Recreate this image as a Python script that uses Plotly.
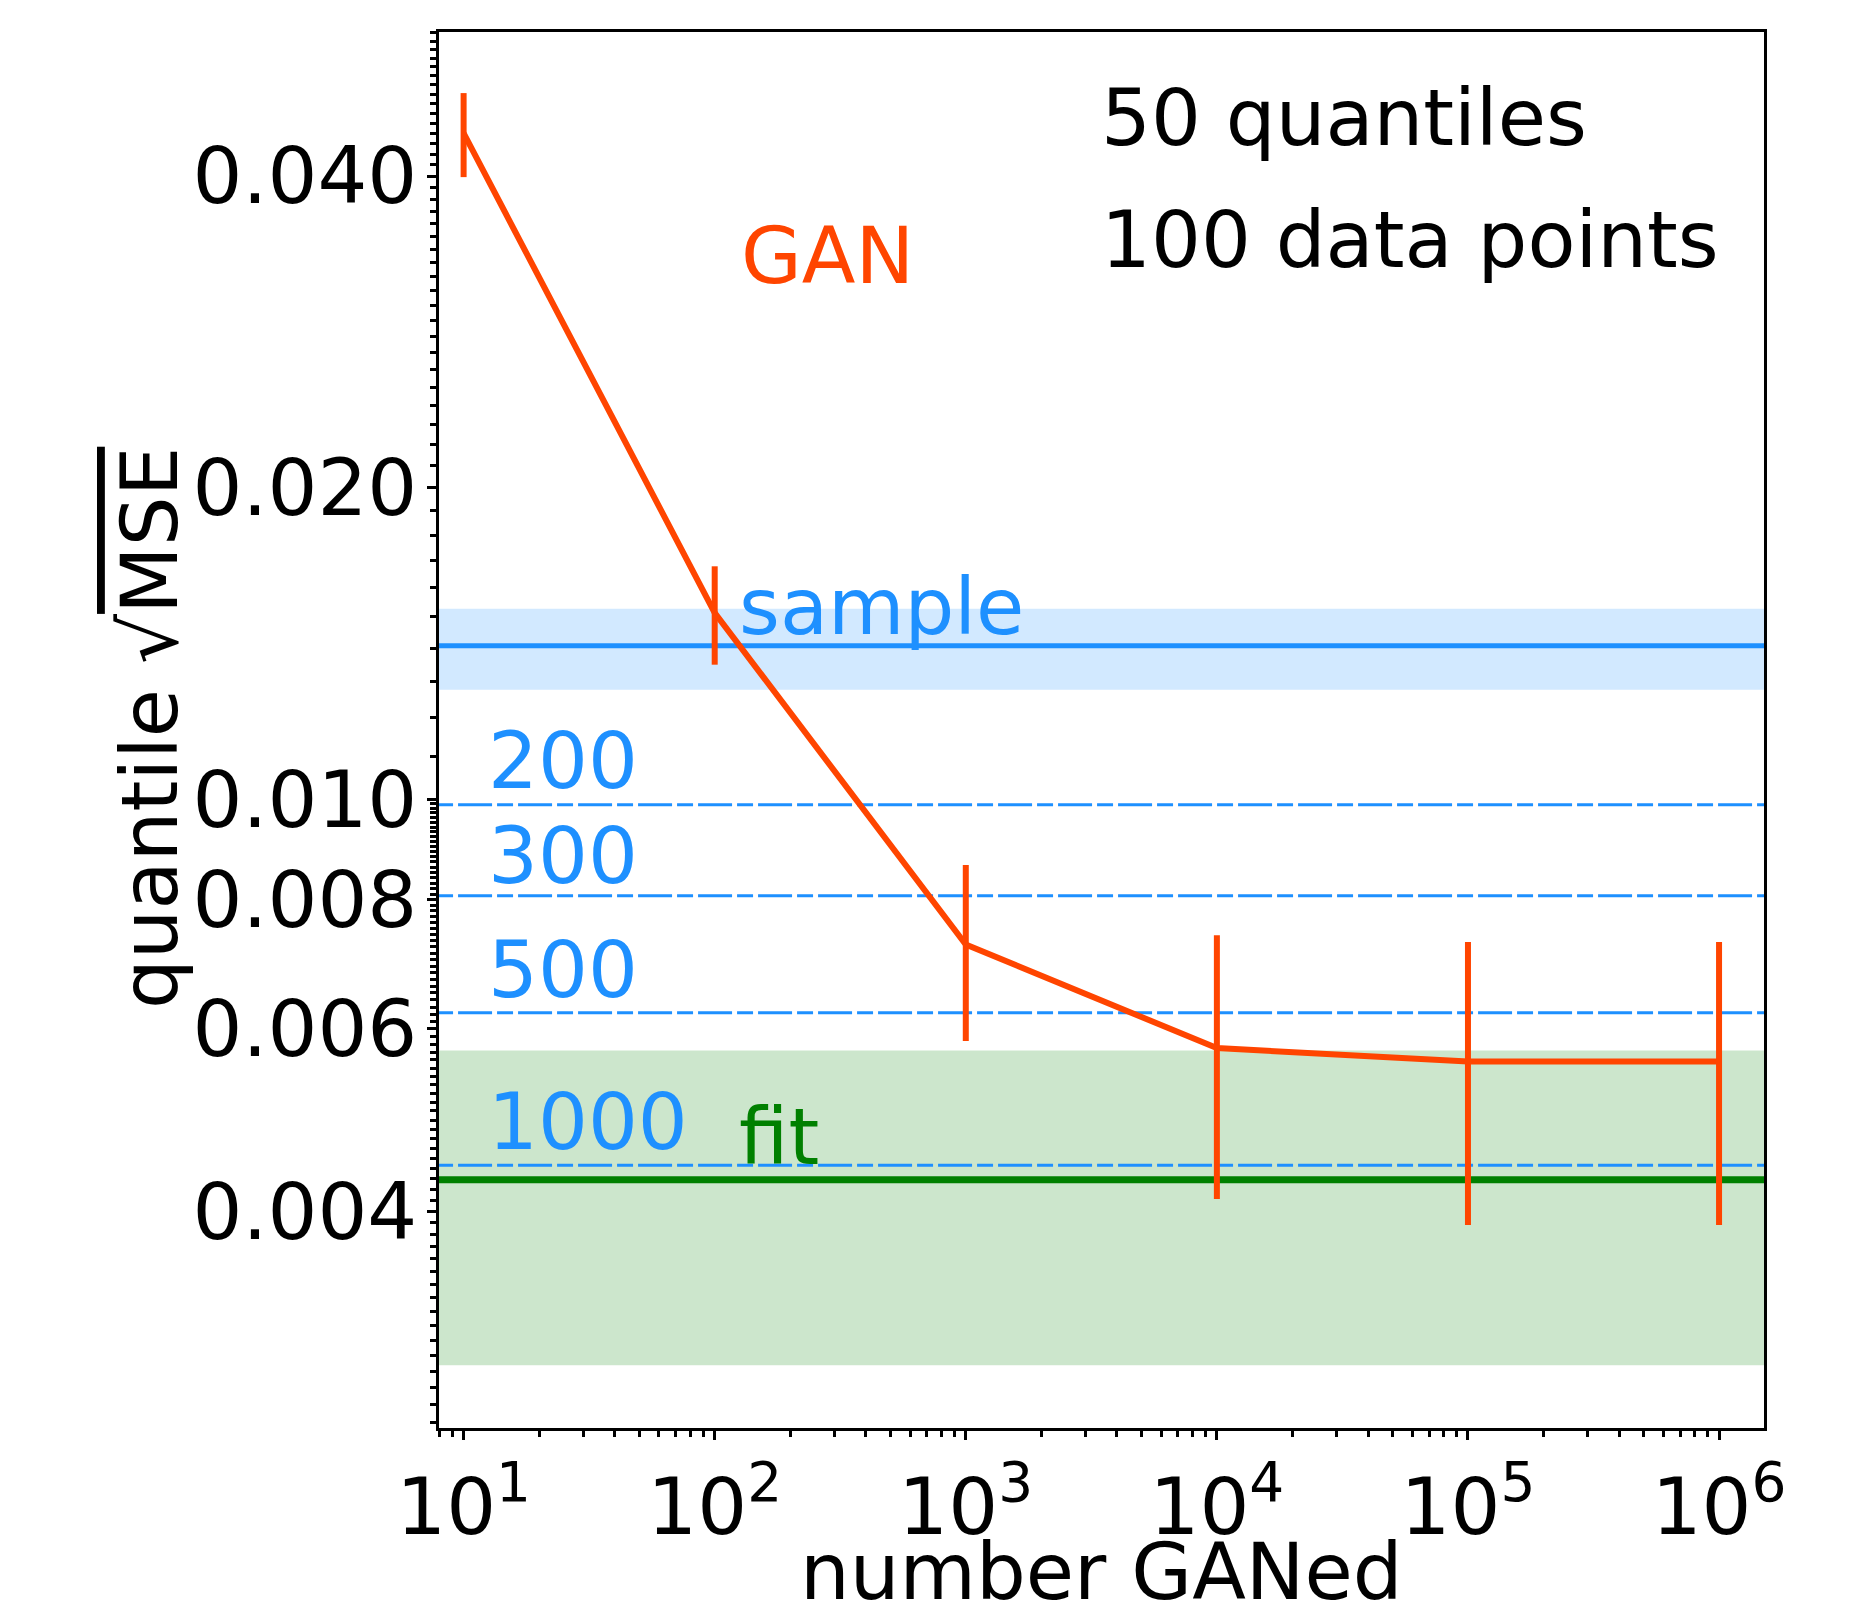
import numpy as np
import plotly.graph_objects as go

# ---------------- data ----------------
n_ganed = [10, 100, 1000, 10000, 100000, 1000000]
gan_rmse = [0.0440, 0.01514, 0.00724, 0.00575, 0.00558, 0.00558]
gan_err = [0.0041, 0.00165, 0.0014, 0.00164, 0.0017, 0.0017]

sample_rmse = 0.01407
sample_band = [0.01276, 0.01528]

fit_rmse = 0.00429
fit_band = [0.00284, 0.00572]

data_sizes = ["200", "300", "500", "1000"]
data_size_rmse = [0.00988, 0.00807, 0.00622, 0.00443]

y_tick_vals = [0.004, 0.006, 0.008, 0.010, 0.020, 0.040]
y_tick_text = ["0.004", "0.006", "0.008", "0.010", "0.020", "0.040"]
x_tick_vals = [10, 100, 1000, 10000, 100000, 1000000]
x_tick_text = ["10<sup>1</sup>", "10<sup>2</sup>", "10<sup>3</sup>",
               "10<sup>4</sup>", "10<sup>5</sup>", "10<sup>6</sup>"]

# ---------------- style ----------------
FONT = "DejaVu Sans"
FS = 78.5
ORANGE = "#FF4500"
BLUE = "#1E90FF"
GREEN = "#008000"
OFF = 8  # default page body margin
W, H = 1850 - 2 * OFF, 1608 - 2 * OFF
L, T = 439 - OFF, 32 - OFF
R = W - (1764 - OFF)
B = H - (1428 - OFF)
PW, PH = W - L - R, H - T - B

def px(x):
    return (x - OFF - L) / PW

def py(y):
    return ((1428 - OFF) - (y - OFF)) / PH

x_span = [10 ** 0.5, 10 ** 6.6]

fig = go.Figure()

# bands
for band, col in [(sample_band, "rgba(30,144,255,0.2)"), (fit_band, "rgba(0,128,0,0.2)")]:
    fig.add_trace(go.Scatter(
        x=[x_span[0], x_span[1], x_span[1], x_span[0], x_span[0]],
        y=[band[0], band[0], band[1], band[1], band[0]],
        mode="lines", fill="toself", fillcolor=col,
        line=dict(width=0), hoverinfo="skip", showlegend=False))

# dashed lines for data sizes
for v in data_size_rmse:
    fig.add_trace(go.Scatter(
        x=x_span, y=[v, v], mode="lines",
        line=dict(color=BLUE, width=3, dash="34px,5px,16px,5px"),
        showlegend=False))

# sample line
fig.add_trace(go.Scatter(x=x_span, y=[sample_rmse, sample_rmse], mode="lines",
                         line=dict(color=BLUE, width=5), showlegend=False))
# fit line
fig.add_trace(go.Scatter(x=x_span, y=[fit_rmse, fit_rmse], mode="lines",
                         line=dict(color=GREEN, width=7), showlegend=False))

# GAN curve
fig.add_trace(go.Scatter(
    x=n_ganed, y=gan_rmse, mode="lines",
    line=dict(color=ORANGE, width=6),
    error_y=dict(type="data", array=gan_err, visible=True,
                 color=ORANGE, thickness=6, width=0),
    showlegend=False))

# ---------------- annotations ----------------
ann = []
def add_text(text, xpix, ypix, color, xanchor="left", angle=0):
    ann.append(dict(text=text, x=px(xpix), y=py(ypix), xref="paper", yref="paper",
                    xanchor=xanchor, yanchor="middle", showarrow=False,
                    textangle=angle, font=dict(family=FONT, size=FS, color=color)))

add_text("50 quantiles", 1099, 118, "black")
add_text("100 data points", 1099, 240, "black")
add_text("GAN", 739, 256, ORANGE)
add_text("sample", 737, 607, BLUE)
for lab, ypix in zip(data_sizes, [761, 856, 970, 1122]):
    add_text(lab, 486, ypix, BLUE)
add_text("fit", 737, 1137, GREEN)
add_text("number GANed", 1101, 1572, "black", xanchor="center")
add_text("quantile √<span style='text-decoration:overline'>MSE</span>", 150, 728, "black",
         xanchor="center", angle=-90)

y_minor = list(np.arange(25, 100) / 10000.0) + list(np.arange(11, 56) / 1000.0)
x_minor = [k * 10 ** e for e in range(0, 7) for k in range(2, 10)]

fig.update_layout(
    width=W, height=H,
    margin=dict(l=L, r=R, t=T, b=B, pad=0),
    paper_bgcolor="white", plot_bgcolor="white",
    font=dict(family=FONT, size=FS, color="black"),
    annotations=ann,
    xaxis=dict(
        type="log", range=[0.902, 6.179],
        tickmode="array", tickvals=x_tick_vals, ticktext=x_tick_text,
        ticks="outside", ticklen=9, tickwidth=2.5, tickcolor="black",
        showline=True, linewidth=3, linecolor="black", mirror=True,
        showgrid=False, zeroline=False,
        tickfont=dict(family=FONT, size=FS, color="black"),
        minor=dict(tickmode="array", tickvals=x_minor, ticks="outside",
                   ticklen=6, tickwidth=2.5, tickcolor="black", showgrid=False),
    ),
    yaxis=dict(
        type="log", range=[np.log10(0.00247), np.log10(0.0551)],
        tickmode="array", tickvals=y_tick_vals, ticktext=y_tick_text,
        ticks="outside", ticklen=9, tickwidth=2.5, tickcolor="black",
        showline=True, linewidth=3, linecolor="black", mirror=True,
        showgrid=False, zeroline=False,
        tickfont=dict(family=FONT, size=FS, color="black"),
        minor=dict(tickmode="array", tickvals=y_minor, ticks="outside",
                   ticklen=6, tickwidth=2.5, tickcolor="black", showgrid=False),
    ),
)

try:
    fig.update_yaxes(ticklabelstandoff=-6)
except Exception:
    pass

fig.write_html("out.html")
